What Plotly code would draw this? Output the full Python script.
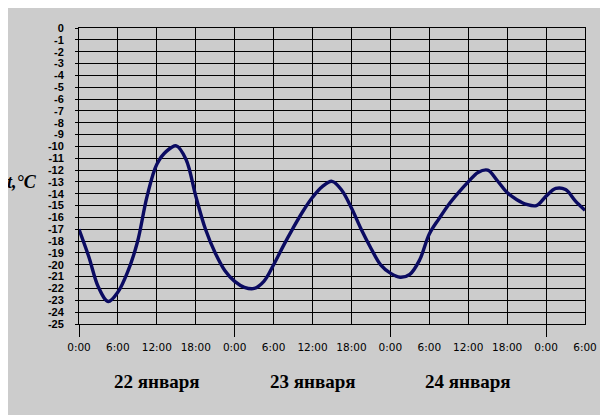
import plotly.graph_objects as go

# hours since 0:00, 22 January (readings every 1.5 h)
hours = [0.0, 1.5, 3.0, 4.5, 6.0, 7.5, 9.0, 10.5, 12.0, 13.5, 15.0, 16.5, 18.0, 19.5,
         21.0, 22.5, 24.0, 25.5, 27.0, 28.5, 30.0, 31.5, 33.0, 34.5, 36.0, 37.5,
         39.0, 40.5, 42.0, 43.5, 45.0, 46.5, 48.0, 49.5, 51.0, 52.5, 54.0, 55.5,
         57.0, 58.5, 60.0, 61.5, 63.0, 64.5, 66.0, 67.5, 69.0, 70.5, 72.0, 73.5,
         75.0, 76.5, 78.0]
temps = [-17.0, -19.3, -21.9, -23.1, -22.3, -20.6, -18.1, -14.2, -11.5, -10.4, -9.95, -11.1, -14.2, -17.0,
         -19.0, -20.5, -21.4, -21.9, -22.0, -21.4, -20.0, -18.4, -16.9, -15.5, -14.3, -13.4,
         -12.95, -13.7, -15.2, -17.0, -18.6, -20.0, -20.7, -21.05, -20.8, -19.6, -17.4, -16.1,
         -14.9, -13.9, -13.0, -12.2, -12.0, -12.9, -13.9, -14.5, -14.9, -15.0, -14.2, -13.55,
         -13.65, -14.6, -15.4]

tick_hours = list(range(0, 79, 6))
tick_labels = ["0:00", "6:00", "12:00", "18:00"] * 3 + ["0:00", "6:00"]
day_starts = [0, 24, 48, 72]
day_labels = ["22 января", "23 января", "24 января"]
y_vals = list(range(0, -26, -1))

BG = "#cccccc"

fig = go.Figure()
fig.add_trace(go.Scatter(x=hours, y=temps, mode="lines",
                         line=dict(color="#0b0b62", width=3.4, shape="spline", smoothing=1.0),
                         hoverinfo="skip", showlegend=False))
# invisible trace for secondary x axis (day ticks)
fig.add_trace(go.Scatter(x=day_starts, y=[None] * len(day_starts), xaxis="x2",
                         mode="markers", showlegend=False, hoverinfo="skip"))

fig.update_layout(
    width=600, height=407,
    paper_bgcolor=BG, plot_bgcolor=BG,
    margin=dict(l=71, r=23, t=20, b=91),
    xaxis=dict(range=[0, 78], tickvals=tick_hours, ticktext=tick_labels,
               showgrid=True, gridcolor="black", gridwidth=1,
               showline=True, mirror=True, linecolor="black", linewidth=1,
               ticks="", ticklabelstandoff=13, zeroline=False,
               tickfont=dict(family="DejaVu Sans", size=10.5, color="black")),
    xaxis2=dict(range=[0, 78], overlaying="x", anchor="y", side="bottom",
                tickvals=day_starts, ticks="outside", ticklen=12, tickcolor="black",
                tickwidth=1, showticklabels=False, showgrid=False, zeroline=False,
                showline=False),
    yaxis=dict(range=[-25, 0], tickvals=y_vals, ticktext=[str(v) for v in y_vals],
               showgrid=True, gridcolor="black", gridwidth=1,
               showline=True, mirror=True, linecolor="black", linewidth=1,
               ticks="outside", ticklen=3, tickcolor="black", zeroline=False,
               ticklabelstandoff=9,
               tickfont=dict(family="Liberation Sans", size=11, color="black", weight="bold")),
    showlegend=False,
)

for i, lab in enumerate(day_labels):
    fig.add_annotation(x=day_starts[i] + 12, y=-0.195, xref="x", yref="paper",
                       text=lab, showarrow=False, xanchor="center", yanchor="middle",
                       font=dict(family="Liberation Serif", size=19, color="black", weight="bold"))

fig.add_annotation(x=-0.112, y=0.48, xref="paper", yref="paper",
                   text="<i>t,°C</i>", showarrow=False, xanchor="center", yanchor="middle",
                   font=dict(family="Liberation Serif", size=18, color="black", weight="bold"))

fig.write_html("out.html")
